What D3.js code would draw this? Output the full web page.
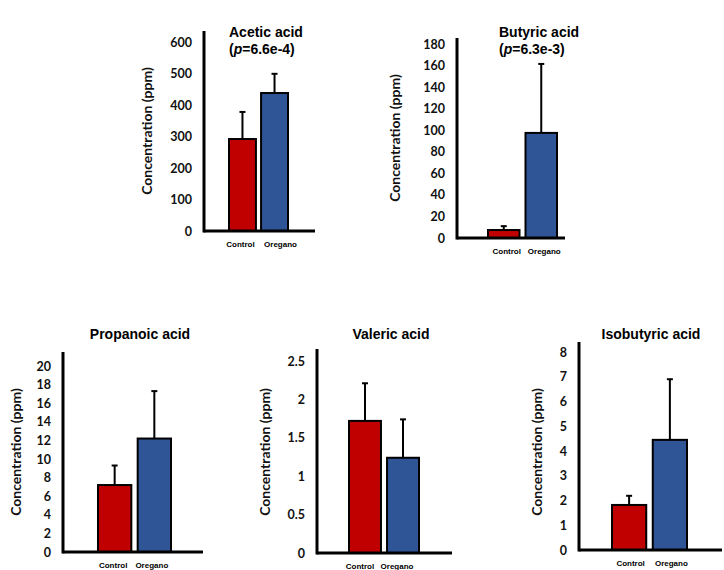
<!DOCTYPE html>
<html>
<head>
<meta charset="utf-8">
<script src="https://cdn.jsdelivr.net/npm/d3@7"></script>
<style>
  body { margin: 0; background: #fff; }
  .tick text { font-family: Lato, "Open Sans", sans-serif; font-weight: bold; font-size: 12.5px; fill: #111; }
</style>
</head>
<body>
<div id="chart"></div>
<script>
// data
var groups = ["Control", "Oregano"];
var acids = ["Acetic acid", "Butyric acid", "Propanoic acid", "Valeric acid", "Isobutyric acid"];
var pValues = ["6.6e-4", "6.3e-3", null, null, null];
var controlMeans = [292, 7.4, 7.2, 1.72, 1.82];
var controlErr = [86, 3.6, 2.1, 0.49, 0.37];
var oreganoMeans = [438, 97.5, 12.2, 1.24, 4.45];
var oreganoErr = [61, 64, 5.1, 0.5, 2.45];
var yMax = [600, 180, 20, 2.5, 8];
var yStep = [100, 20, 2, 0.5, 1];

var colors = ["#c00000", "#2f5597"];

// panel placement in the page
var layout = [
  { ax: 204, top: 31, base: 231, yTop: 42, right: 315, b0: 229, b1: 288, tx: 229, ty: 37, anchor: "start", lx: 147, ly: 131, gdx: [-2, 6] },
  { ax: 457, top: 38, base: 238, yTop: 44, right: 565, b0: 488, b1: 557, tx: 499, ty: 37, anchor: "start", lx: 395, ly: 138, gdx: [3, 3] },
  { ax: 63,  top: 352, base: 552, yTop: 366, right: 203, b0: 98,  b1: 171, tx: 140, ty: 339, anchor: "middle", lx: 16, ly: 452, gdx: [-1.5, -2.5] },
  { ax: 317, top: 349, base: 553, yTop: 361, right: 452, b0: 349, b1: 419, tx: 391, ty: 339, anchor: "middle", lx: 265, ly: 452, gdx: [-5, -6] },
  { ax: 579, top: 342, base: 550, yTop: 352, right: 722, b0: 612, b1: 687, tx: 651, ty: 339, anchor: "middle", lx: 537, ly: 452, gdx: [1.5, 1.5] }
];

var svg = d3.select("#chart").append("svg")
  .attr("width", 724)
  .attr("height", 570);

acids.forEach(function (name, i) {
  var L = layout[i];
  var g = svg.append("g");

  var y = d3.scaleLinear().domain([0, yMax[i]]).range([L.base, L.yTop]);
  var x = d3.scaleBand().domain(groups).range([L.b0, L.b1]).paddingInner(0.16);

  var ticks = d3.range(0, yMax[i] + yStep[i] / 2, yStep[i]);
  var axis = g.append("g")
    .attr("transform", "translate(" + L.ax + ",0)")
    .call(d3.axisLeft(y).tickValues(ticks).tickSize(0).tickPadding(12).tickFormat(d3.format("~g")));
  axis.select(".domain").remove();

  var rows = groups.map(function (grp, j) {
    return {
      group: grp,
      mean: j === 0 ? controlMeans[i] : oreganoMeans[i],
      err: j === 0 ? controlErr[i] : oreganoErr[i],
      color: colors[j],
      dx: L.gdx[j]
    };
  });

  // error bars (upper only)
  g.selectAll(".err").data(rows).enter().append("line")
    .attr("x1", function (d) { return x(d.group) + x.bandwidth() / 2; })
    .attr("x2", function (d) { return x(d.group) + x.bandwidth() / 2; })
    .attr("y1", function (d) { return y(d.mean); })
    .attr("y2", function (d) { return y(d.mean + d.err); })
    .attr("stroke", "#000").attr("stroke-width", 2);
  g.selectAll(".cap").data(rows).enter().append("line")
    .attr("x1", function (d) { return x(d.group) + x.bandwidth() / 2 - 3; })
    .attr("x2", function (d) { return x(d.group) + x.bandwidth() / 2 + 3; })
    .attr("y1", function (d) { return y(d.mean + d.err); })
    .attr("y2", function (d) { return y(d.mean + d.err); })
    .attr("stroke", "#000").attr("stroke-width", 2);

  g.selectAll(".bar").data(rows).enter().append("rect")
    .attr("x", function (d) { return x(d.group); })
    .attr("width", x.bandwidth())
    .attr("y", function (d) { return y(d.mean); })
    .attr("height", function (d) { return y(0) - y(d.mean); })
    .attr("fill", function (d) { return d.color; })
    .attr("stroke", "#000").attr("stroke-width", 2);

  // axis lines
  g.append("line")
    .attr("x1", L.ax).attr("x2", L.ax).attr("y1", L.top).attr("y2", L.base + 1.5)
    .attr("stroke", "#000").attr("stroke-width", 3);
  g.append("line")
    .attr("x1", L.ax).attr("x2", L.right).attr("y1", L.base).attr("y2", L.base)
    .attr("stroke", "#000").attr("stroke-width", 3);

  // group labels
  g.selectAll(".glab").data(rows).enter().append("text")
    .attr("x", function (d) { return x(d.group) + x.bandwidth() / 2 + d.dx; })
    .attr("y", L.base + 16)
    .attr("text-anchor", "middle")
    .style("font-family", "Liberation Sans, Arial, sans-serif")
    .style("font-weight", "bold")
    .style("font-size", "8px")
    .text(function (d) { return d.group; });

  // title
  g.append("text")
    .attr("x", L.tx).attr("y", L.ty)
    .attr("text-anchor", L.anchor)
    .style("font-family", "Liberation Sans, Arial, sans-serif")
    .style("font-weight", "bold")
    .style("font-size", "14px")
    .text(name);
  if (pValues[i]) {
    var t2 = g.append("text")
      .attr("x", L.tx).attr("y", L.ty + 17)
      .attr("text-anchor", L.anchor)
      .style("font-family", "Liberation Sans, Arial, sans-serif")
      .style("font-weight", "bold")
      .style("font-size", "14px");
    t2.append("tspan").text("(");
    t2.append("tspan").style("font-style", "italic").text("p");
    t2.append("tspan").text("=" + pValues[i] + ")");
  }

  // y label
  g.append("text")
    .attr("transform", "translate(" + L.lx + "," + L.ly + ") rotate(-90)")
    .attr("text-anchor", "middle")
    .attr("dy", "0.35em")
    .style("font-family", "Lato, 'Open Sans', sans-serif")
    .style("font-weight", "bold")
    .style("font-size", "14px")
    .style("fill", "#111")
    .text("Concentration (ppm)");
});
</script>
</body>
</html>
